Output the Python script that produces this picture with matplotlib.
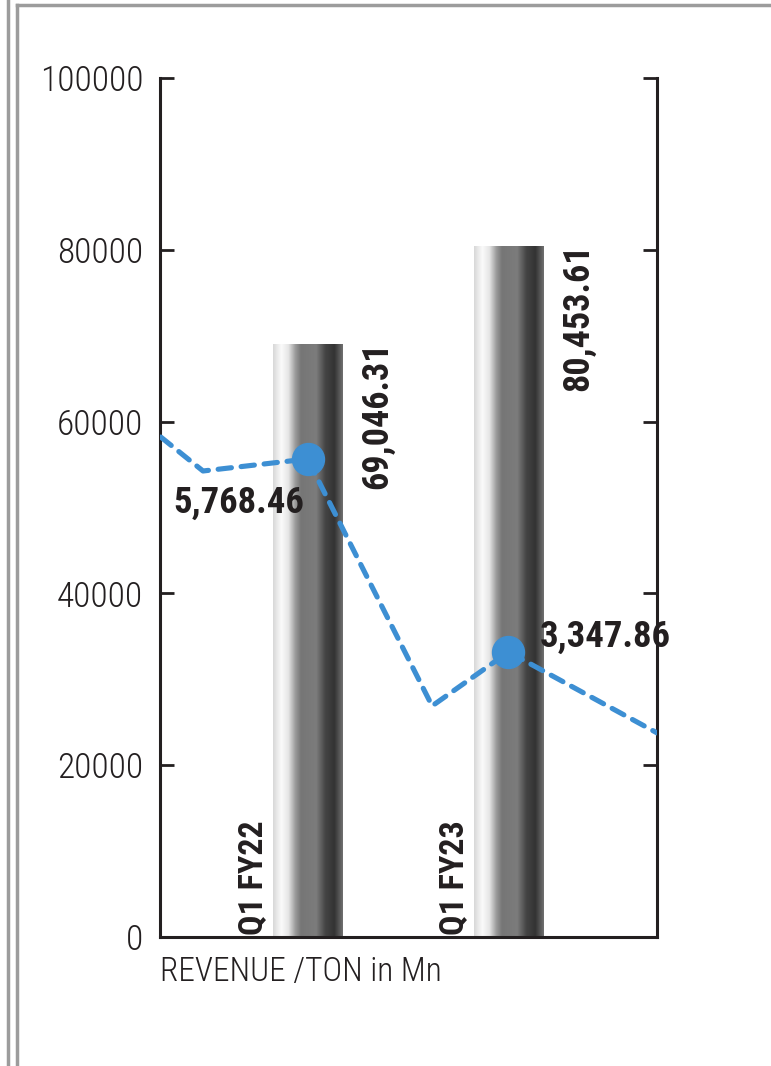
import numpy as np
import matplotlib
matplotlib.use("Agg")
import matplotlib.pyplot as plt
from matplotlib import font_manager
from matplotlib.colors import LinearSegmentedColormap
from matplotlib.lines import Line2D

# data
categories = ["Q1 FY22", "Q1 FY23"]
revenue = [69046.31, 80453.61]
revenue_labels = ["69,046.31", "80,453.61"]

# dashed trend line (axis units)
line_x = [-0.73, -0.52, 0.0, 0.62, 1.0, 1.74]
line_y = [58200, 54250, 55650, 26900, 33180, 23750]
marker_idx = [2, 4]
point_labels = ["5,768.46", "3,347.86"]

yticks = [0, 20000, 40000, 60000, 80000, 100000]


def pick_font(names):
    have = {f.name for f in font_manager.fontManager.ttflist}
    for n in names:
        if n in have:
            return n
    return "DejaVu Sans"


narrow = pick_font(["Roboto Condensed", "Liberation Sans Narrow", "DejaVu Sans"])

fig = plt.figure(figsize=(7.71, 10.66), dpi=100)
ax = fig.add_axes([160 / 771, 129 / 1066, 497 / 771, 859 / 1066])

metal = LinearSegmentedColormap.from_list("metal", [
    (0.00, "#d8d8d8"), (0.12, "#fbfbfb"), (0.22, "#e6e6e6"),
    (0.32, "#9a9a9a"), (0.40, "#767676"), (0.62, "#7c7c7c"),
    (0.75, "#444444"), (0.88, "#333333"), (1.00, "#707070"),
])
grad = np.linspace(0, 1, 256).reshape(1, -1)

x = np.arange(len(categories))
bw = 0.345
bars = ax.bar(x, revenue, width=bw, color="none", zorder=2)
for b in bars:
    im = ax.imshow(grad, cmap=metal, aspect="auto", zorder=2,
                   extent=[b.get_x(), b.get_x() + b.get_width(), 0, b.get_height()])
    im.set_clip_path(b)

ax.plot(line_x, line_y, color="#3d8fd3", lw=3.7, ls=(0, (2.6, 1.9)),
        dash_capstyle="round", solid_capstyle="round", zorder=3)
ax.plot([line_x[i] for i in marker_idx], [line_y[i] for i in marker_idx],
        "o", color="#3d8fd3", ms=23, zorder=4)

bold = dict(family=narrow, fontweight="heavy", color="#231f20")
for xi, v, lab in zip(x, revenue, revenue_labels):
    ax.text(xi + 0.345, v + 300, lab, rotation=90, ha="center", va="top", fontsize=26, **bold)
for xi, cat in zip(x, categories):
    ax.text(xi - 0.272, 250, cat, rotation=90, ha="center", va="bottom", fontsize=24.5, **bold)

ax.text(-0.34, 50500, point_labels[0], ha="center", va="center", fontsize=26.5, **bold)
ax.text(1.48, 34900, point_labels[1], ha="center", va="center", fontsize=26.5, **bold)

ax.set_xlim(-0.734, 1.739)
ax.set_ylim(0, 100000)
ax.set_yticks(yticks)
ax.set_xticks([])
ax.tick_params(axis="y", direction="in", length=10, width=2, color="#231f20",
               labelsize=25.5, pad=12, right=True, labelcolor="#231f20")
for lab in ax.get_yticklabels():
    lab.set_family(narrow)
    lab.set_fontweight("light")
ax.spines["top"].set_visible(False)
for s in ["left", "right", "bottom"]:
    ax.spines[s].set_linewidth(2.2)
    ax.spines[s].set_color("#231f20")
ax.set_facecolor("white")

fig.text(160 / 771, 1 - 972 / 1066, "REVENUE /TON in Mn", family=narrow,
         fontweight="light", fontsize=24, color="#231f20", ha="left", va="center")

# page frame
gray = "#9c9c9c"
fig.add_artist(Line2D([8 / 771, 8 / 771], [0, 1], color=gray, lw=2.5))
fig.add_artist(Line2D([17 / 771, 17 / 771], [0, 1 - 5 / 1066], color=gray, lw=2.5))
fig.add_artist(Line2D([17 / 771, 1], [1 - 5 / 1066, 1 - 5 / 1066], color=gray, lw=2.5))

fig.savefig("out.png", dpi=100)
